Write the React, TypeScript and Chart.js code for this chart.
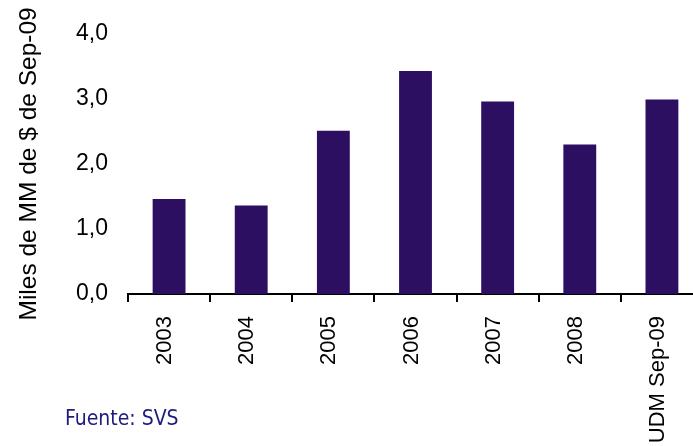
import React, { useEffect, useRef } from 'react';
import { Chart, registerables } from 'chart.js';

Chart.register(...registerables);

const categories = ['2003', '2004', '2005', '2006', '2007', '2008', 'UDM Sep-09'];
const values = [1.46, 1.36, 2.51, 3.43, 2.96, 2.3, 2.99];
const yTickLabels = ['0,0', '1,0', '2,0', '3,0', '4,0'];
const axisTitle = 'Miles de MM de $ de Sep-09';
const sourceNote = 'Fuente: SVS';

const BAR_COLOR = '#2d0f62';
const SANS = "'Liberation Sans', Arial, sans-serif";

export default function App() {
  const canvasRef = useRef<HTMLCanvasElement | null>(null);

  useEffect(() => {
    const canvas = canvasRef.current;
    if (!canvas) return;
    const chart = new Chart(canvas, {
      type: 'bar',
      data: {
        labels: categories,
        datasets: [
          {
            data: values,
            backgroundColor: BAR_COLOR,
            borderWidth: 0,
            barPercentage: 0.4,
            categoryPercentage: 1,
          },
        ],
      },
      options: {
        animation: false,
        responsive: false,
        devicePixelRatio: 1,
        layout: { padding: { top: 33, right: 7, left: 0, bottom: 0 } },
        plugins: {
          legend: { display: false },
          tooltip: { enabled: false },
        },
        scales: {
          x: {
            grid: {
              display: true,
              drawOnChartArea: false,
              drawTicks: true,
              tickLength: 8,
              color: '#000',
              lineWidth: 2,
              offset: true,
            },
            border: { display: true, color: '#000', width: 2 },
            ticks: {
              autoSkip: false,
              maxRotation: 90,
              minRotation: 90,
              padding: 14,
              labelOffset: -4,
              color: '#000',
              font: { family: SANS, size: 22 },
            },
            afterFit: (s: any) => {
              s.height = 152;
            },
          },
          y: {
            min: 0,
            max: 4,
            grid: { display: false, drawTicks: false },
            border: { display: false },
            ticks: {
              stepSize: 1,
              padding: 20,
              color: '#000',
              font: { family: SANS, size: 23 },
              callback: (v: any) => yTickLabels[Math.round(Number(v))] ?? '',
            },
            title: {
              display: true,
              text: axisTitle,
              color: '#000',
              padding: { top: 15, bottom: 0 },
              font: { family: SANS, size: 24.5 },
            },
            afterFit: (s: any) => {
              s.width = 128;
            },
          },
        },
      },
    });
    return () => chart.destroy();
  }, []);

  return (
    <div
      style={{
        position: 'fixed',
        left: 0,
        top: 0,
        width: 693,
        height: 446,
        overflow: 'hidden',
        background: '#fff',
      }}
    >
      <canvas ref={canvasRef} width={710} height={446} style={{ width: 710, height: 446 }} />
      <div
        style={{
          position: 'absolute',
          left: 65,
          top: 408,
          fontFamily: "'DejaVu Sans Condensed', 'DejaVu Sans', sans-serif",
          fontStretch: 'condensed',
          fontSize: 21,
          lineHeight: 1,
          color: '#1f1b7b',
          whiteSpace: 'nowrap',
        }}
      >
        {sourceNote}
      </div>
    </div>
  );
}
